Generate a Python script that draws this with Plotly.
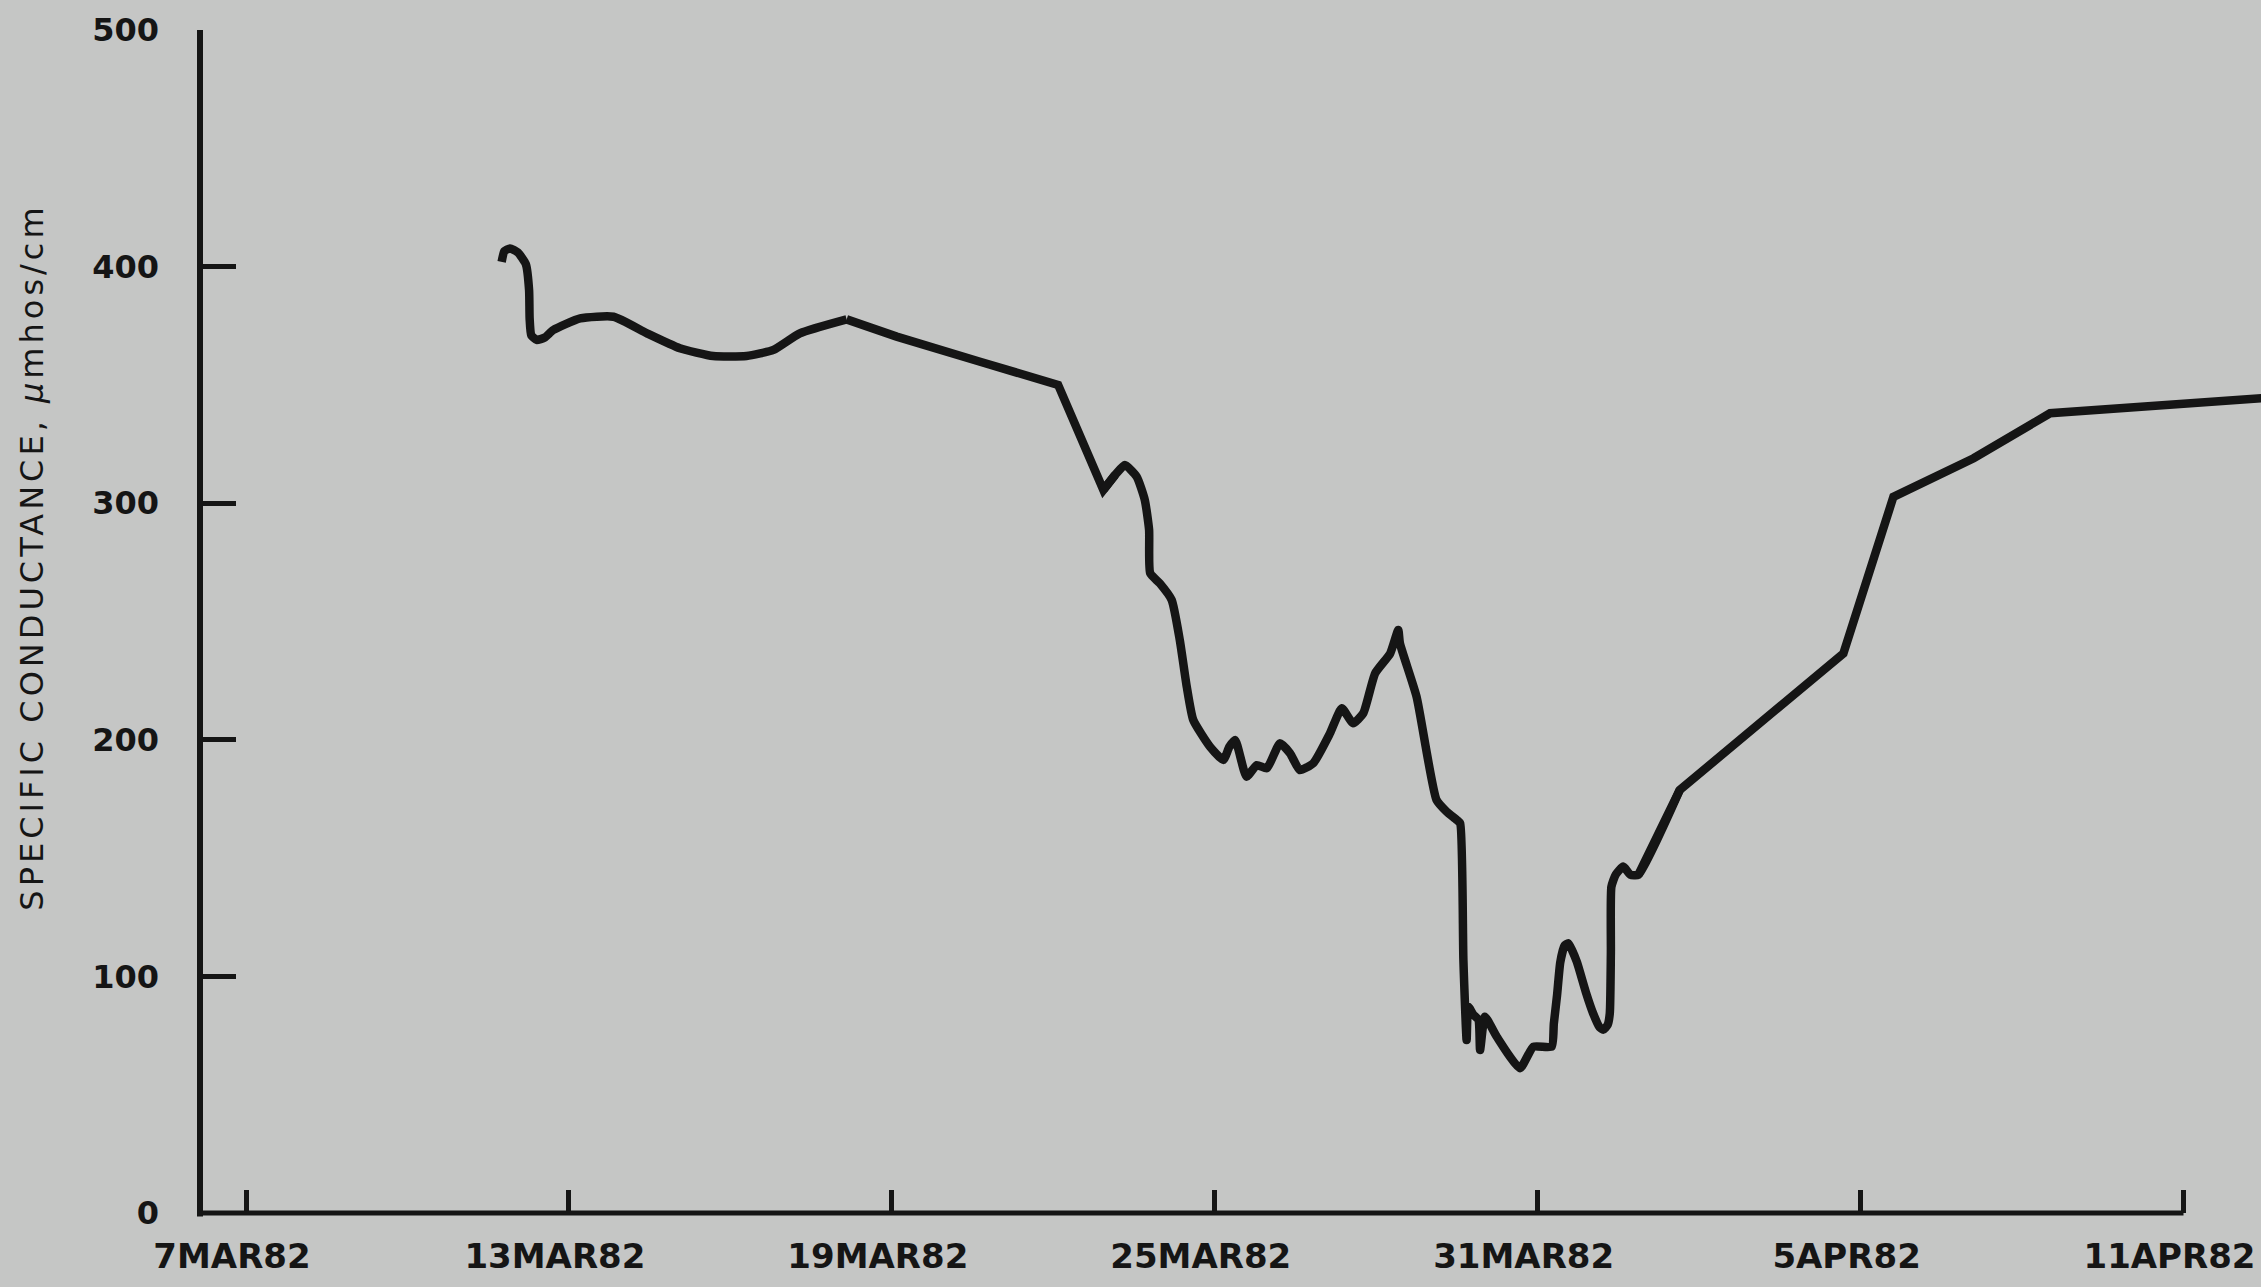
import plotly.graph_objects as go

# Specific conductance record, 7 Mar - 12 Apr 1982
# x: days after 7MAR82, y: specific conductance (umhos/cm)
days = [
    4.75, 4.80, 4.905, 5.05, 5.20, 5.26, 5.27, 5.30, 5.40, 5.55, 5.71,
    6.21, 6.83, 7.45, 8.06, 8.68, 9.30, 9.80, 10.29, 11.16, 12.09, 13.64,
    15.09, 15.93, 16.15, 16.33, 16.55, 16.70, 16.78, 16.80, 16.98, 17.20,
    17.35, 17.48, 17.60, 17.91, 18.16, 18.27, 18.38, 18.59, 18.78, 18.97,
    19.21, 19.40, 19.58, 19.83, 20.14, 20.36, 20.57, 20.76, 20.98, 21.26,
    21.41, 21.44, 21.75, 22.12, 22.31, 22.50, 22.56, 22.62, 22.68, 22.71,
    22.80, 22.90, 22.93, 23.02, 23.24, 23.67, 23.92, 24.26, 24.30, 24.36,
    24.42, 24.50, 24.57, 24.64, 24.73, 24.90, 25.03, 25.15, 25.22, 25.30,
    25.34, 25.36, 25.37, 25.45, 25.59, 25.72, 25.87, 26.64, 29.68, 30.61,
    32.10, 33.52, 37.50,
]
conductance = [
    402, 406.5, 407.7, 406, 401, 390, 378, 371, 369, 370, 373.2,
    378.1, 378.8, 371.8, 365.5, 362.2, 362.2, 364.8, 371.8, 377.7, 370.4, 359.8,
    350, 305.6, 312, 316.1, 311.2, 301.4, 288.7, 270.4, 266.1, 259.1,
    242.2, 222.4, 208.4, 197.1, 191.5, 197, 199.9, 184.4, 189.3, 188,
    198.5, 194.3, 187.2, 190.1, 202.7, 213.3, 207, 211.2, 228.1, 236.5,
    246.4, 240.8, 218.2, 174.6, 169.6, 166.1, 164.7, 106.9, 73.1, 87.2,
    84, 81.6, 68.9, 83, 74.5, 61.2, 70.3, 70.3, 80, 92,
    106, 113, 114, 111, 106, 93, 84.4, 78.5, 77.5, 79.5,
    84.4, 110, 137.9, 143, 146.4, 143, 142.9, 178.8, 236.5, 302.7,
    319, 338, 344.5,
]

tick_days = [0, 6, 12, 18, 24, 30, 36]
tick_labels = ["7MAR82", "13MAR82", "19MAR82", "25MAR82", "31MAR82", "5APR82", "11APR82"]
y_ticks = [0, 100, 200, 300, 400, 500]

x_min, x_max = -0.855, 37.44
bg = "#c5c6c5"
ink = "#151515"


def idx(d):
    return days.index(d)


# The trace is drawn piecewise: smooth where the record is curved,
# straight between the widely spaced readings.
pieces = [
    (4.75, 11.16, "spline"),
    (11.16, 16.15, "linear"),
    (15.93, 26.64, "spline"),
    (25.87, 37.50, "linear"),
]

fig = go.Figure()
for start, end, shape in pieces:
    i0, i1 = idx(start), idx(end) + 1
    line = dict(color=ink, width=8.5, shape=shape)
    if shape == "spline":
        line["smoothing"] = 0.5
    fig.add_trace(go.Scatter(
        x=days[i0:i1], y=conductance[i0:i1], mode="lines",
        line=line, hoverinfo="skip", showlegend=False,
    ))

# Axis lines drawn as shapes so the time axis stops at the last tick
fig.add_shape(type="line", xref="paper", yref="paper",
              x0=0, x1=0, y0=-0.003, y1=1, line=dict(color=ink, width=6))
fig.add_shape(type="line", xref="x", yref="paper",
              x0=x_min, x1=tick_days[-1], y0=0, y1=0, line=dict(color=ink, width=5))

fig.add_annotation(
    text='<span style="letter-spacing:4px">SPECIFIC CONDUCTANCE, <i>µ</i>mhos/cm</span>',
    xref="paper", yref="y", x=-0.0815, y=277,
    xanchor="center", yanchor="middle", textangle=-90, showarrow=False,
    font=dict(family="DejaVu Sans", size=32, color=ink),
)

fig.update_layout(
    width=2261, height=1287,
    margin=dict(l=200, r=0, t=30, b=74),
    paper_bgcolor=bg, plot_bgcolor=bg,
    xaxis=dict(
        range=[x_min, x_max], tickmode="array", tickvals=tick_days, ticktext=tick_labels,
        ticks="inside", ticklen=23, tickwidth=5, tickcolor=ink,
        showline=False, showgrid=False, zeroline=False,
        tickfont=dict(family="DejaVu Sans", size=34, color=ink, weight="bold"),
        ticklabelstandoff=20, ticklabelshift=-14,
    ),
    yaxis=dict(
        range=[0, 500], tickmode="array", tickvals=y_ticks,
        ticks="inside", ticklen=36, tickwidth=5, tickcolor=ink,
        showline=False, showgrid=False, zeroline=False,
        tickfont=dict(family="DejaVu Sans", size=32, color=ink, weight="bold"),
        ticklabelstandoff=40,
    ),
)

fig.write_html("out.html")
